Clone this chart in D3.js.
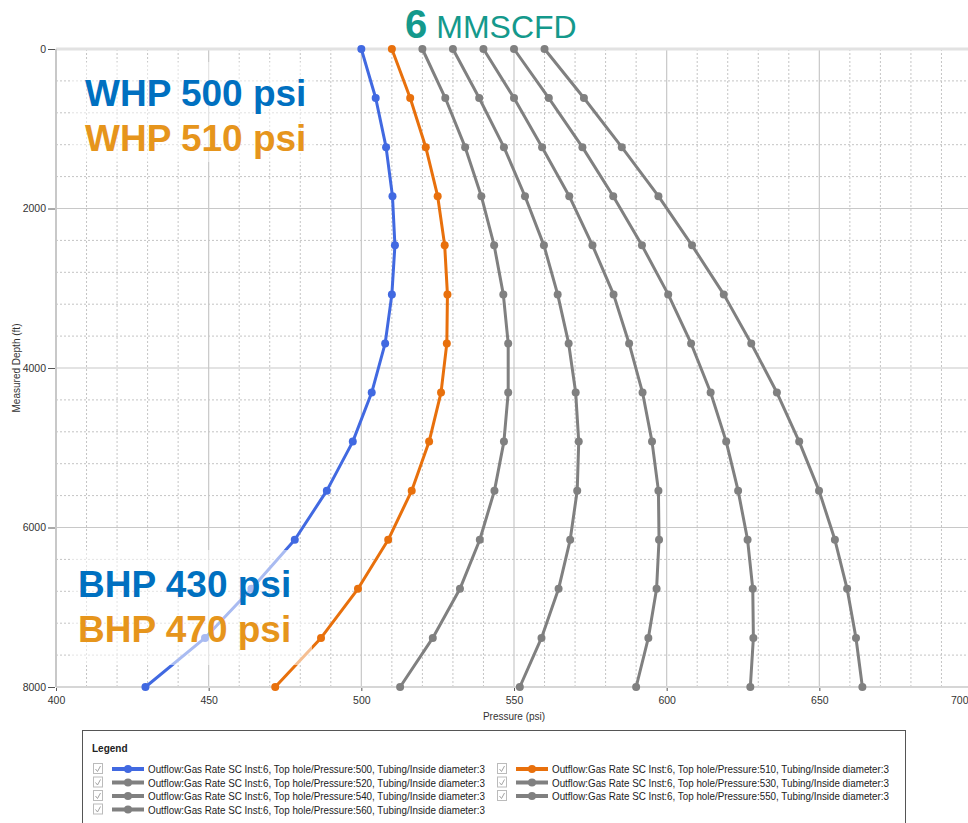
<!DOCTYPE html>
<html>
<head>
<meta charset="utf-8">
<script src="https://cdn.jsdelivr.net/npm/d3@7"></script>
<style>
  html, body { margin: 0; padding: 0; background: #fff; }
  svg { display: block; font-family: "Liberation Sans", Arial, sans-serif; }
</style>
</head>
<body>
<svg id="chart" width="968" height="823"></svg>
<script>
// ---- data ----
const depths = [0, 615, 1231, 1846, 2462, 3077, 3692, 4308, 4923, 5538, 6154, 6769, 7385, 8000];
const whp500 = [500, 504.7, 508.1, 510.2, 511.0, 510.0, 507.8, 503.4, 497.2, 488.7, 478.2, 464.0, 448.8, 429.3];
const whp510 = [510, 516.0, 521.1, 525.0, 527.3, 528.2, 528.0, 526.1, 522.2, 516.5, 508.8, 498.9, 486.8, 471.8];
const whp520 = [520, 527.5, 534.0, 539.3, 543.5, 546.5, 548.1, 548.1, 546.7, 543.6, 538.8, 532.3, 523.4, 512.7];
const whp530 = [530, 538.6, 546.7, 553.6, 559.8, 564.3, 567.9, 570.2, 571.2, 570.7, 568.4, 564.6, 559.0, 551.9];
const whp540 = [540, 550.0, 559.2, 568.1, 575.7, 582.6, 587.7, 592.1, 595.2, 597.3, 597.5, 596.7, 594.0, 590.0];
const whp550 = [550, 561.4, 572.4, 582.5, 591.9, 600.5, 608.0, 614.4, 619.5, 623.4, 626.5, 628.2, 628.4, 627.4];
const whp560 = [560, 572.9, 585.3, 597.3, 608.3, 618.7, 627.7, 636.1, 643.4, 649.9, 655.1, 659.1, 662.0, 664.1];
const topPressures = [500, 510, 520, 530, 540, 550, 560];
const seriesValues = [whp500, whp510, whp520, whp530, whp540, whp550, whp560];
const seriesColors = ["#4169e1", "#e8700c", "#808080", "#808080", "#808080", "#808080", "#808080"];
const xTicks = [400, 450, 500, 550, 600, 650, 700];
const yTicks = [0, 2000, 4000, 6000, 8000];

const svg = d3.select("#chart");
const x = d3.scaleLinear().domain([400, 700]).range([56, 972]);
const y = d3.scaleLinear().domain([0, 8000]).range([49, 687]);

// ---- grid ----
const grid = svg.append("g");
grid.selectAll(".vminor").data(d3.range(410, 700, 10).filter(v => v % 50 !== 0)).join("line")
  .attr("x1", d => x(d)).attr("x2", d => x(d)).attr("y1", y(0)).attr("y2", y(8000))
  .attr("stroke", "#c4c4c4").attr("stroke-width", 1).attr("stroke-dasharray", "2,2");
grid.selectAll(".hminor").data(d3.range(400, 8000, 400).filter(v => v % 2000 !== 0)).join("line")
  .attr("x1", x(400)).attr("x2", 968).attr("y1", d => y(d)).attr("y2", d => y(d))
  .attr("stroke", "#c4c4c4").attr("stroke-width", 1).attr("stroke-dasharray", "2,2");
grid.selectAll(".vmajor").data(xTicks.slice(1)).join("line")
  .attr("x1", d => x(d)).attr("x2", d => x(d)).attr("y1", y(0)).attr("y2", y(8000))
  .attr("stroke", "#c8c8c8").attr("stroke-width", 1.2);
grid.selectAll(".hmajor").data([2000, 4000, 6000]).join("line")
  .attr("x1", x(400)).attr("x2", 968).attr("y1", d => y(d)).attr("y2", d => y(d))
  .attr("stroke", "#c8c8c8").attr("stroke-width", 1.2);
// frame lines
svg.append("line").attr("x1", x(400)).attr("x2", 968).attr("y1", y(0)).attr("y2", y(0))
  .attr("stroke", "#e2e2e2").attr("stroke-width", 3);
svg.append("line").attr("x1", x(400)).attr("x2", 968).attr("y1", y(8000)).attr("y2", y(8000))
  .attr("stroke", "#d6d6d6").attr("stroke-width", 2);
svg.append("line").attr("x1", x(400)).attr("x2", x(400)).attr("y1", y(0)).attr("y2", y(8000))
  .attr("stroke", "#c8c8c8").attr("stroke-width", 2);

// ---- axes ----
const yAxis = svg.append("g").attr("transform", `translate(${x(400) - 1},0)`)
  .call(d3.axisLeft(y).tickValues(yTicks).tickFormat(d3.format("d")).tickSize(7).tickPadding(2));
yAxis.select(".domain").remove();
yAxis.selectAll("line").attr("stroke", "#555");
yAxis.selectAll("text").attr("font-size", 10.5).attr("fill", "#333")
  .attr("font-family", "'Liberation Sans', Arial, sans-serif");

const xAxis = svg.append("g").attr("transform", `translate(0,${y(8000) + 1})`)
  .call(d3.axisBottom(x).tickValues(xTicks).tickFormat(d3.format("d")).tickSize(3).tickPadding(6));
xAxis.select(".domain").remove();
xAxis.selectAll("line").attr("stroke", "#555");
xAxis.selectAll("text").attr("font-size", 10.5).attr("fill", "#333")
  .attr("font-family", "'Liberation Sans', Arial, sans-serif");
xAxis.selectAll(".tick").filter(d => d === 700).select("text")
  .attr("text-anchor", "end").attr("x", -4);

svg.append("text").attr("x", 514).attr("y", 720).attr("text-anchor", "middle")
  .attr("font-size", 10).attr("fill", "#333").text("Pressure (psi)");
svg.append("text").attr("transform", `translate(20,${(y(0) + y(8000)) / 2}) rotate(-90)`)
  .attr("text-anchor", "middle").attr("font-size", 10).attr("fill", "#333").text("Measured Depth (ft)");

// ---- series ----
const line = d3.line().x(d => x(d[0])).y(d => y(d[1]));
seriesValues.forEach((vals, i) => {
  const pts = vals.map((v, j) => [v, depths[j]]);
  const g = svg.append("g");
  g.append("path").datum(pts).attr("d", line).attr("fill", "none")
    .attr("stroke", seriesColors[i]).attr("stroke-width", 3).attr("stroke-linejoin", "round");
  g.selectAll("circle").data(pts).join("circle")
    .attr("cx", d => x(d[0])).attr("cy", d => y(d[1])).attr("r", 4)
    .attr("fill", seriesColors[i]);
});

// ---- annotation boxes ----
svg.append("rect").attr("x", 72).attr("y", 62).attr("width", 242).attr("height", 100)
  .attr("fill", "#fff").attr("fill-opacity", 0.5);
svg.append("rect").attr("x", 70).attr("y", 550).attr("width", 242).attr("height", 115)
  .attr("fill", "#fff").attr("fill-opacity", 0.55);

const big = (txt, xx, yy, col) => svg.append("text").attr("x", xx).attr("y", yy)
  .attr("font-size", 37).attr("font-weight", "bold").attr("fill", col)
  .attr("font-family", "'Liberation Sans', Arial, sans-serif").text(txt);
big("WHP 500 psi", 85, 106, "#0070c0");
big("WHP 510 psi", 85, 151, "#e6951c");
big("BHP 430 psi", 78, 597, "#0070c0");
big("BHP 470 psi", 78, 642, "#e6951c");

// ---- title ----
const title = svg.append("text").attr("x", 405).attr("y", 38).attr("fill", "#14998c")
  .attr("font-family", "'Liberation Sans', Arial, sans-serif");
title.append("tspan").attr("font-size", 40).attr("font-weight", "bold").text("6");
title.append("tspan").attr("font-size", 32).attr("dx", 9).text("MMSCFD");

// ---- legend ----
const leg = svg.append("g");
leg.append("rect").attr("x", 82.5).attr("y", 730.5).attr("width", 823).attr("height", 120)
  .attr("fill", "#fff").attr("stroke", "#555").attr("stroke-width", 1);
leg.append("text").attr("x", 92).attr("y", 752).attr("font-size", 10).attr("font-weight", "bold")
  .attr("fill", "#222").text("Legend");
const colX = [93, 497];
const rowY = [769, 782.5, 796, 809.5];
topPressures.forEach((p, i) => {
  const cx = colX[i % 2], cy = rowY[Math.floor(i / 2)];
  const g = leg.append("g");
  g.append("rect").attr("x", cx + 0.5).attr("y", cy - 5.5).attr("width", 9).attr("height", 10)
    .attr("fill", "#fff").attr("stroke", "#bbb").attr("stroke-width", 1);
  g.append("path").attr("d", `M${cx + 2.5},${cy} L${cx + 4.5},${cy + 2.5} L${cx + 7.5},${cy - 3}`)
    .attr("fill", "none").attr("stroke", "#999").attr("stroke-width", 0.9);
  g.append("line").attr("x1", cx + 19).attr("x2", cx + 51).attr("y1", cy).attr("y2", cy)
    .attr("stroke", seriesColors[i]).attr("stroke-width", 4);
  g.append("circle").attr("cx", cx + 35).attr("cy", cy).attr("r", 4).attr("fill", seriesColors[i]);
  g.append("text").attr("x", cx + 55).attr("y", cy + 4).attr("font-size", 11.5).attr("fill", "#222")
    .attr("textLength", 337).attr("lengthAdjust", "spacingAndGlyphs")
    .text(`Outflow:Gas Rate SC Inst:6, Top hole/Pressure:${p}, Tubing/Inside diameter:3`);
});
</script>
</body>
</html>
